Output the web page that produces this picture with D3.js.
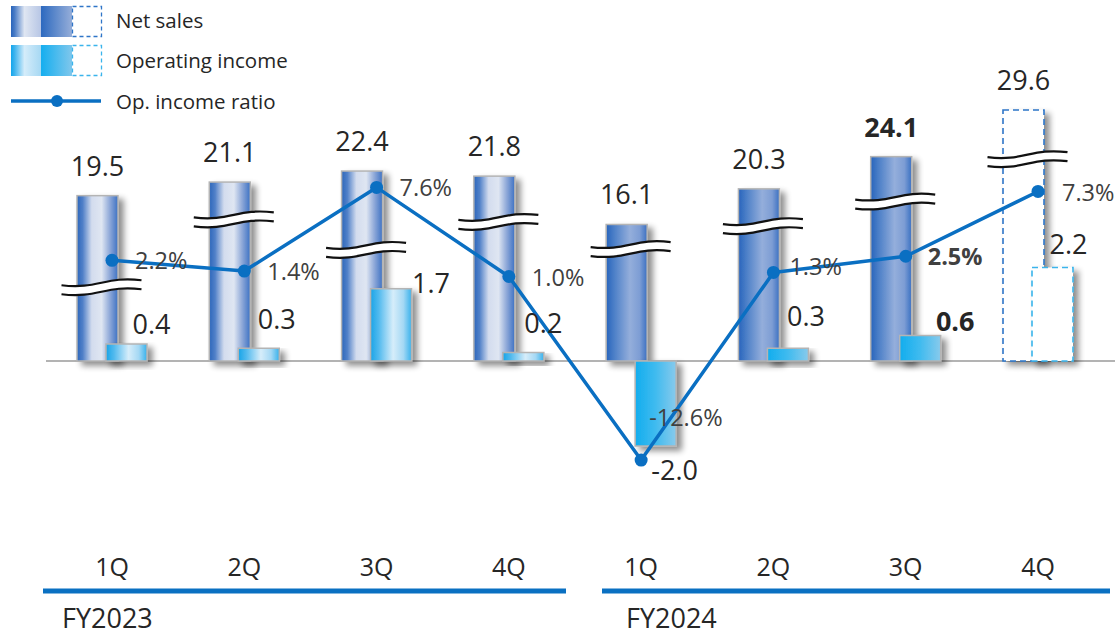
<!DOCTYPE html>
<html>
<head>
<meta charset="utf-8">
<script src="https://cdn.jsdelivr.net/npm/d3@7"></script>
<style>
  html, body { margin: 0; padding: 0; background: #fff; }
  svg { display: block; font-family: "Open Sans", "Noto Sans", sans-serif; }
</style>
</head>
<body>
<svg id="chart" width="1120" height="635"></svg>
<script>
// ---- data (billion yen / %) ----
const quarters = ["1Q", "2Q", "3Q", "4Q", "1Q", "2Q", "3Q", "4Q"];
const fiscalYears = ["FY2023", "FY2024"];
const netSales = [19.5, 21.1, 22.4, 21.8, 16.1, 20.3, 24.1, 29.6];
const operatingIncome = [0.4, 0.3, 1.7, 0.2, -2.0, 0.3, 0.6, 2.2];
const opIncomeRatio = [2.2, 1.4, 7.6, 1.0, -12.6, 1.3, 2.5, 7.3];
const isForecast = [false, false, false, false, false, false, false, true];
const isLatest = [false, false, false, false, false, false, true, false];
// where the axis-break mark cuts each net-sales bar (net-sales units)
const axisBreaks = [8.7, 16.7, 13.1, 16.4, 13.2, 15.9, 18.8, 23.8];

// ---- layout nudges for data labels ----
const opLabelNudge = [[25, -10], [18, -19], [40, 4], [20, -20], [19, 34], [18, -22], [35, -5], [16, -14]];
const ratioLabelNudge = [[23, 9], [23, 9], [23, 9], [23, 9], [8, -34], [16, 3], [22, 9], [24, 10]];

const svg = d3.select("#chart");
const idx = d3.range(quarters.length);
const baseY = 361;

const x = d3.scalePoint().domain(idx).range([112, 1038]);
const ySales = d3.scaleLinear().domain([0, 30]).range([baseY, baseY - 254.4]);
const yOp = d3.scaleLinear().domain([0, 2]).range([baseY, baseY - 85]);
const yRatio = d3.scaleLinear().domain([0, 7.6]).range([290, 290 - 7.6 * 13.5]);

const barW = 41, barOff = 14.5;
const fy = i => (i < 4 ? 0 : 1);

// ---- defs: gradients and shadow ----
const defs = svg.append("defs");
function grad(id, stops) {
  const g = defs.append("linearGradient").attr("id", id)
    .attr("x1", "0%").attr("x2", "100%").attr("y1", "0%").attr("y2", "0%");
  stops.forEach(([o, c]) => g.append("stop").attr("offset", o).attr("stop-color", c));
}
grad("sales23", [["0%", "#2c66bb"], ["14%", "#5080c8"], ["36%", "#d3dcee"], ["60%", "#dfe6f2"], ["80%", "#8ea8d8"], ["100%", "#3c71c3"]]);
grad("sales24", [["0%", "#2764bc"], ["20%", "#4d80c8"], ["58%", "#94aedb"], ["82%", "#7d9dd4"], ["100%", "#3a70c2"]]);
grad("op23", [["0%", "#18a4e8"], ["20%", "#52baee"], ["55%", "#d6edfa"], ["80%", "#a4d8f4"], ["100%", "#36b1ec"]]);
grad("op24", [["0%", "#12adee"], ["50%", "#40bbef"], ["100%", "#88caec"]]);
grad("legSalesA", [["0%", "#2864bb"], ["12%", "#4a7cc6"], ["45%", "#dfe6f2"], ["100%", "#b7c6e5"]]);
grad("legSalesB", [["0%", "#2c69bf"], ["100%", "#96aed9"]]);
grad("legOpA", [["0%", "#12a6ec"], ["12%", "#3fb4ee"], ["45%", "#d4ecfa"], ["100%", "#a6d8f3"]]);
grad("legOpB", [["0%", "#14aeef"], ["100%", "#80c7ec"]]);

const f = defs.append("filter").attr("id", "shadow")
  .attr("x", "-30%").attr("y", "-30%").attr("width", "180%").attr("height", "180%");
f.append("feGaussianBlur").attr("in", "SourceAlpha").attr("stdDeviation", 3).attr("result", "b");
f.append("feOffset").attr("in", "b").attr("dx", 5).attr("dy", 4).attr("result", "o");
f.append("feComponentTransfer").attr("in", "o").attr("result", "s")
  .append("feFuncA").attr("type", "linear").attr("slope", 0.45);
const fm = f.append("feMerge");
fm.append("feMergeNode").attr("in", "s");
fm.append("feMergeNode").attr("in", "SourceGraphic");

// ---- legend ----
const legend = svg.append("g");
legend.append("rect").attr("x", 11).attr("y", 6).attr("width", 30).attr("height", 31).attr("fill", "url(#legSalesA)");
legend.append("rect").attr("x", 41).attr("y", 6).attr("width", 31).attr("height", 31).attr("fill", "url(#legSalesB)");
legend.append("rect").attr("x", 72.5).attr("y", 6.5).attr("width", 29).attr("height", 30)
  .attr("fill", "none").attr("stroke", "#2e75c8").attr("stroke-width", 1.3).attr("stroke-dasharray", "4,3");
legend.append("rect").attr("x", 11).attr("y", 45).attr("width", 30).attr("height", 31).attr("fill", "url(#legOpA)");
legend.append("rect").attr("x", 41).attr("y", 45).attr("width", 31).attr("height", 31).attr("fill", "url(#legOpB)");
legend.append("rect").attr("x", 72.5).attr("y", 45.5).attr("width", 29).attr("height", 30)
  .attr("fill", "none").attr("stroke", "#3ab4ec").attr("stroke-width", 1.3).attr("stroke-dasharray", "4,3");
legend.append("line").attr("x1", 11).attr("x2", 101).attr("y1", 101).attr("y2", 101)
  .attr("stroke", "#0a6fc2").attr("stroke-width", 3.5);
legend.append("circle").attr("cx", 57).attr("cy", 101).attr("r", 6).attr("fill", "#0a6fc2");
const legText = [["Net sales", 28], ["Operating income", 68], ["Op. income ratio", 109]];
legend.selectAll("text.leg").data(legText).join("text").attr("class", "leg")
  .attr("x", 116).attr("y", d => d[1]).attr("font-size", 20.5).attr("fill", "#262626").text(d => d[0]);

// ---- baseline ----
svg.append("line").attr("x1", 46).attr("x2", 1115).attr("y1", baseY).attr("y2", baseY)
  .attr("stroke", "#9a9a9a").attr("stroke-width", 1.5);

// ---- bars ----
const bars = svg.append("g");
idx.forEach(i => {
  const sx = x(i) - barOff - barW / 2;
  const ox = x(i) + barOff - barW / 2;
  const sTop = ySales(netSales[i]);
  const oTop = Math.min(yOp(operatingIncome[i]), yOp(0));
  const oH = Math.abs(yOp(operatingIncome[i]) - yOp(0));
  if (isForecast[i]) {
    bars.append("rect").attr("x", sx).attr("y", sTop).attr("width", barW).attr("height", baseY - sTop)
      .attr("fill", "#fff").attr("stroke", "#2e75c8").attr("stroke-width", 1.6)
      .attr("stroke-dasharray", "6,4").attr("filter", "url(#shadow)");
    bars.append("rect").attr("x", ox).attr("y", oTop).attr("width", barW).attr("height", oH)
      .attr("fill", "#fff").attr("stroke", "#3ab4ec").attr("stroke-width", 1.6)
      .attr("stroke-dasharray", "6,4").attr("filter", "url(#shadow)");
  } else {
    bars.append("rect").attr("x", sx).attr("y", sTop).attr("width", barW).attr("height", baseY - sTop)
      .attr("fill", fy(i) ? "url(#sales24)" : "url(#sales23)")
      .attr("stroke", "#b4b4b4").attr("stroke-width", 1.5).attr("filter", "url(#shadow)");
    bars.append("rect").attr("x", ox).attr("y", oTop).attr("width", barW).attr("height", oH)
      .attr("fill", fy(i) ? "url(#op24)" : "url(#op23)")
      .attr("stroke", "#b4b4b4").attr("stroke-width", 1.5).attr("filter", "url(#shadow)");
  }
});

// ---- axis-break marks on the net-sales bars ----
const breaks = svg.append("g");
function wave(x0, w, y) {
  return `M${x0},${y + 2.5} C${x0 + w * 0.45},${y + 7} ${x0 + w * 0.55},${y - 7} ${x0 + w},${y - 2.5}`;
}
function waveBack(x0, w, y) {
  return `L${x0 + w},${y - 2.5} C${x0 + w * 0.55},${y - 7} ${x0 + w * 0.45},${y + 7} ${x0},${y + 2.5} Z`;
}
idx.forEach(i => {
  const w = 80;
  const x0 = x(i) - barOff + 4 - w / 2;
  const yc = ySales(axisBreaks[i]);
  breaks.append("path").attr("d", wave(x0, w, yc - 4.5) + waveBack(x0, w, yc + 4.5)).attr("fill", "#fff");
  breaks.append("path").attr("d", wave(x0, w, yc - 4.5)).attr("fill", "none").attr("stroke", "#111").attr("stroke-width", 2.2);
  breaks.append("path").attr("d", wave(x0, w, yc + 4.5)).attr("fill", "none").attr("stroke", "#111").attr("stroke-width", 2.2);
});

// ---- op. income ratio line ----
const line = d3.line().x(i => x(i)).y(i => yRatio(opIncomeRatio[i]));
svg.append("path").datum(idx).attr("d", line).attr("fill", "none")
  .attr("stroke", "#0a6fc2").attr("stroke-width", 3.5).attr("stroke-linejoin", "round");
svg.append("g").selectAll("circle").data(idx).join("circle")
  .attr("cx", i => x(i)).attr("cy", i => yRatio(opIncomeRatio[i])).attr("r", 6.5).attr("fill", "#0a6fc2");

// ---- data labels ----
const labels = svg.append("g");
labels.selectAll("text.sales").data(idx).join("text").attr("class", "sales")
  .attr("x", i => x(i) - barOff).attr("y", i => ySales(netSales[i]) - 20)
  .attr("text-anchor", "middle").attr("font-size", 27).attr("fill", "#262626")
  .attr("font-weight", i => (isLatest[i] ? 700 : 400))
  .text(i => netSales[i].toFixed(1));

labels.selectAll("text.op").data(idx).join("text").attr("class", "op")
  .attr("x", i => x(i) + barOff + opLabelNudge[i][0])
  .attr("y", i => yOp(operatingIncome[i]) + opLabelNudge[i][1])
  .attr("text-anchor", "middle").attr("font-size", 27).attr("fill", "#262626")
  .attr("font-weight", i => (isLatest[i] ? 700 : 400))
  .text(i => operatingIncome[i].toFixed(1));

labels.selectAll("text.ratio").data(idx).join("text").attr("class", "ratio")
  .attr("x", i => x(i) + ratioLabelNudge[i][0])
  .attr("y", i => yRatio(opIncomeRatio[i]) + ratioLabelNudge[i][1])
  .attr("font-size", 23.5).attr("fill", "#404040")
  .attr("font-weight", i => (isLatest[i] ? 700 : 400))
  .text(i => opIncomeRatio[i].toFixed(1) + "%");

// ---- category axis ----
const axis = svg.append("g");
axis.selectAll("text.q").data(idx).join("text").attr("class", "q")
  .attr("x", i => x(i)).attr("y", 576).attr("text-anchor", "middle")
  .attr("font-size", 25).attr("fill", "#262626").text(i => quarters[i]);
const fySpans = [[43, 566, 62], [602, 1110, 626]];
fiscalYears.forEach((name, k) => {
  const [a, b, tx] = fySpans[k];
  axis.append("line").attr("x1", a).attr("x2", b).attr("y1", 591).attr("y2", 591)
    .attr("stroke", "#0a70c2").attr("stroke-width", 5);
  axis.append("text").attr("x", tx).attr("y", 628).attr("font-size", 27)
    .attr("fill", "#262626").text(name);
});
</script>
</body>
</html>
